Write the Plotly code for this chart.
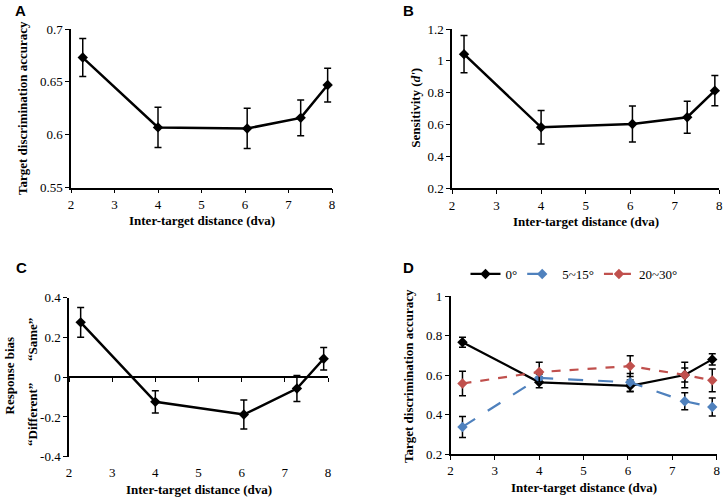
import plotly.graph_objects as go

# ---------------- data ----------------
dist = [2.27, 4.0, 6.05, 7.28, 7.9]

acc_A = [0.673, 0.607, 0.606, 0.616, 0.647]
acc_A_err = [0.018, 0.019, 0.019, 0.017, 0.016]

dprime_B = [1.042, 0.583, 0.604, 0.646, 0.813]
dprime_B_err = [0.117, 0.105, 0.113, 0.100, 0.095]

bias_C = [0.276, -0.124, -0.188, -0.057, 0.093]
bias_C_err = [0.075, 0.056, 0.073, 0.065, 0.057]

acc_D_0 = [0.766, 0.563, 0.545, 0.600, 0.679]
acc_D_0_err = [0.025, 0.027, 0.030, 0.035, 0.028]
acc_D_5_15 = [0.337, 0.585, 0.563, 0.467, 0.438]
acc_D_5_15_err = [0.053, 0.020, 0.045, 0.043, 0.045]
acc_D_20_30 = [0.557, 0.615, 0.645, 0.600, 0.573]
acc_D_20_30_err = [0.062, 0.050, 0.053, 0.065, 0.058]

series_names = ["0°", "5~15°", "20~30°"]
c_ticks = [-0.4, -0.2, 0, 0.2, 0.4]
c_ticktext = ["-0.4", "-0.2", "0", "0.2", "0.4"]

# ---------------- style ----------------
SERIF = "Liberation Serif"
BLACK = "#000000"
BLUE = "#4F81BD"
RED = "#C0504D"

fig = go.Figure()


def err(vals, color=BLACK):
    return dict(type="data", array=vals, visible=True, color=color,
                thickness=1.5, width=3.5)


def add_line(x, y, e, xa, ya, color=BLACK, dash="solid", name=None,
             show=False, lw=2.5):
    fig.add_trace(go.Scatter(
        x=x, y=y, error_y=err(e), mode="lines+markers",
        line=dict(color=color, width=lw, dash=dash),
        marker=dict(symbol="diamond", size=8, color=color),
        xaxis=xa, yaxis=ya, name=name, showlegend=show, cliponaxis=False))


add_line(dist, acc_A, acc_A_err, "x", "y")
add_line(dist, dprime_B, dprime_B_err, "x2", "y2")
add_line(dist, bias_C, bias_C_err, "x3", "y3")
# invisible trace to register the bottom label axis of panel C
fig.add_trace(go.Scatter(x=dist, y=bias_C, mode="none", xaxis="x5",
                         yaxis="y3", showlegend=False, hoverinfo="skip"))
add_line(dist, acc_D_0, acc_D_0_err, "x4", "y4", BLACK, "solid",
         series_names[0], True, 2.2)
add_line(dist, acc_D_5_15, acc_D_5_15_err, "x4", "y4", BLUE, "longdash",
         series_names[1], True, 2.2)
add_line(dist, acc_D_20_30, acc_D_20_30_err, "x4", "y4", RED, "dash",
         series_names[2], True, 2.2)

tickfont = dict(family=SERIF, size=13, color=BLACK)

W, H = 726, 499
def fx(px):
    return px / W
def fy(py):
    return 1 - py / H

dom = {
    "A": ([fx(71), fx(332)], [fy(187.7), fy(29)]),
    "B": ([fx(452), fx(719.3)], [fy(188.3), fy(29)]),
    "C": ([fx(69), fx(328)], [fy(456.7), fy(297.7)]),
    "D": ([fx(450.5), fx(716.7)], [fy(454), fy(296)]),
}


def xax(domain, anchor, **kw):
    d = dict(domain=domain, anchor=anchor, range=[2, 8], dtick=1, tick0=2,
             showgrid=False, zeroline=False, showline=True, linecolor=BLACK,
             linewidth=1.5, ticks="outside", ticklen=4, tickwidth=1.2,
             tickcolor=BLACK, tickfont=tickfont, automargin=False)
    d.update(kw)
    return d


def yax(domain, anchor, rng, dtick, **kw):
    d = dict(domain=domain, anchor=anchor, range=rng, dtick=dtick,
             showgrid=False, zeroline=False, showline=True, linecolor=BLACK,
             linewidth=1.5, ticks="outside", ticklen=4, tickwidth=1.2,
             tickcolor=BLACK, tickfont=tickfont, automargin=False)
    d.update(kw)
    return d


zero_frac = (dom["C"][1][0] + dom["C"][1][1]) / 2

fig.update_layout(
    width=W, height=H, margin=dict(l=0, r=0, t=0, b=0, autoexpand=False),
    paper_bgcolor="white", plot_bgcolor="white",
    font=dict(family=SERIF, color=BLACK),
    xaxis=xax(dom["A"][0], "y"),
    yaxis=yax(dom["A"][1], "x", [0.55, 0.7], 0.05, tick0=0.55),
    xaxis2=xax(dom["B"][0], "y2"),
    yaxis2=yax(dom["B"][1], "x2", [0.2, 1.2], 0.2, tick0=0.2),
    xaxis3=xax(dom["C"][0], "free", position=zero_frac,
               showticklabels=False),
    xaxis5=xax(dom["C"][0], "y3", overlaying="x3", showline=False,
               ticks="outside", ticklen=4, tickcolor="rgba(0,0,0,0)"),
    yaxis3=yax(dom["C"][1], "x3", [-0.4, 0.4], None, tickvals=c_ticks,
               ticktext=c_ticktext),
    xaxis4=xax(dom["D"][0], "y4"),
    yaxis4=yax(dom["D"][1], "x4", [0.2, 1.0], 0.2, tick0=0.2),
    showlegend=True,
    legend=dict(orientation="h", x=fx(574), y=fy(274), xanchor="center",
                yanchor="middle", font=dict(family=SERIF, size=13),
                bgcolor="rgba(0,0,0,0)", itemwidth=30, tracegroupgap=0),
)

titlefont = dict(family=SERIF, size=13, color=BLACK)
annots = [
    # axis titles
    dict(text="<b>Target discrimination accuracy</b>", x=fx(22), y=fy(108),
         textangle=-90),
    dict(text="<b>Inter-target distance (dva)</b>", x=fx(201.5), y=fy(220.5)),
    dict(text="<b>Sensitivity (<i>d'</i>)</b>", x=fx(414.7), y=fy(108),
         textangle=-90),
    dict(text="<b>Inter-target distance (dva)</b>", x=fx(585.5), y=fy(221)),
    dict(text="<b>Response bias</b>", x=fx(8.5), y=fy(376), textangle=-90),
    dict(text="<b>“Same”</b>", x=fx(32), y=fy(340), textangle=-90),
    dict(text="<b>“Different”</b>", x=fx(32), y=fy(415), textangle=-90),
    dict(text="<b>Inter-target distance (dva)</b>", x=fx(198.5), y=fy(489)),
    dict(text="<b>Target discrimination accuracy</b>", x=fx(408), y=fy(376),
         textangle=-90),
    dict(text="<b>Inter-target distance (dva)</b>", x=fx(583.6), y=fy(487)),
]
for a in annots:
    a.update(xref="paper", yref="paper", showarrow=False, font=titlefont,
             xanchor="center", yanchor="middle")

letters = [("A", 20, 10), ("B", 408, 10), ("C", 21, 267), ("D", 408.5, 267)]
for t, px, py in letters:
    annots.append(dict(text=f"<b>{t}</b>", x=fx(px), y=fy(py), xref="paper",
                       yref="paper", showarrow=False, xanchor="center",
                       yanchor="middle",
                       font=dict(family="Liberation Sans", size=15,
                                 color=BLACK)))

fig.update_layout(annotations=annots)

fig.write_html(
    "out.html",
    config={"displayModeBar": False},
    post_script="document.body.style.margin='0';"
                "document.body.style.padding='0';"
                "document.body.style.overflow='hidden';",
)
